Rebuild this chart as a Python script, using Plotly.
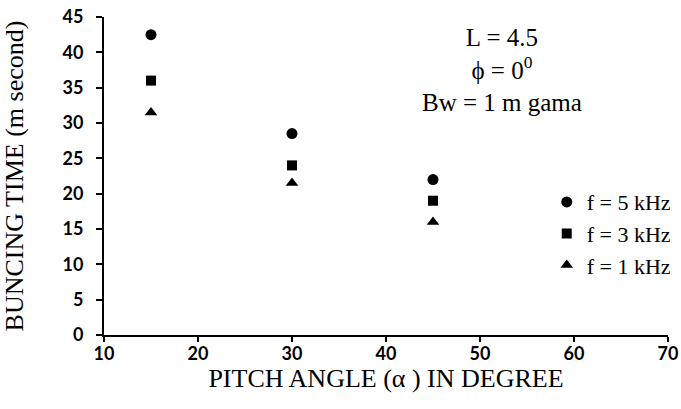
import plotly.graph_objects as go

# Data
pitch_angle = [15, 30, 45]
f5_khz = [42.5, 28.5, 22.0]
f3_khz = [36.0, 24.0, 19.0]
f1_khz = [31.5, 21.5, 16.0]
series_names = ["f = 5 kHz", "f = 3 kHz", "f = 1 kHz"]
x_ticks = [10, 20, 30, 40, 50, 60, 70]
y_ticks = [0, 5, 10, 15, 20, 25, 30, 35, 40, 45]
param_lines = ["L = 4.5", "ϕ = 0<sup>0</sup>", "Bw = 1 m gama"]

serif = "Liberation Serif, Times New Roman, serif"
tickfont = dict(family="Lato, Open Sans, sans-serif", size=18, color="black", weight="bold")

fig = go.Figure()
for name, vals, sym, sz in zip(series_names, [f5_khz, f3_khz, f1_khz],
                               ["circle", "square", "triangle-up"], [11, 10, 11]):
    fig.add_trace(go.Scatter(x=pitch_angle, y=vals, mode="markers", name=name,
                             marker=dict(symbol=sym, size=sz, color="black")))

fig.update_layout(
    width=681, height=409,
    margin=dict(l=104, r=13, t=17, b=74, autoexpand=False),
    paper_bgcolor="white", plot_bgcolor="white",
    showlegend=True,
    legend=dict(x=0.785, y=0.484, xanchor="left", yanchor="top",
                bgcolor="rgba(0,0,0,0)", font=dict(family=serif, size=22, color="black"),
                itemwidth=30),
    xaxis=dict(range=[10, 70], tickvals=x_ticks, showgrid=False, zeroline=False,
               showline=True, linecolor="black", linewidth=2, automargin=True,
               ticks="outside", ticklen=5, tickwidth=2, tickcolor="black",
               ticklabelstandoff=-4,
               tickfont=tickfont,
               title=dict(text="PITCH ANGLE (α ) IN DEGREE", font=dict(family=serif, size=26, color="black"),
                          standoff=6)),
    yaxis=dict(range=[0, 45], tickvals=y_ticks, showgrid=False, zeroline=False,
               showline=True, linecolor="black", linewidth=2, automargin=True,
               ticks="outside", ticklen=6, tickwidth=2, tickcolor="black",
               ticklabelstandoff=9,
               tickfont=tickfont,
               title=dict(text="BUNCING TIME (m second)", font=dict(family=serif, size=26, color="black"),
                          standoff=32)),
)

fig.add_annotation(text="<br>".join(param_lines), xref="paper", yref="paper",
                   x=(502 - 104) / 564, y=(335 - 70) / 318,
                   showarrow=False, align="center",
                   font=dict(family=serif, size=25, color="black"),
                   xanchor="center", yanchor="middle")

fig.write_html("out.html", config={"displayModeBar": False},
               post_script="document.body.style.margin='0';")
